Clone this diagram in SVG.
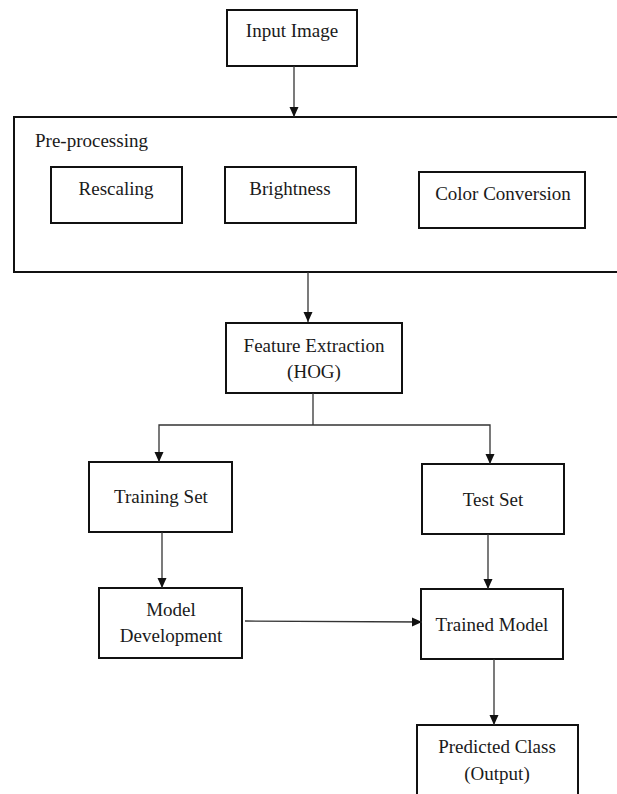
<svg xmlns="http://www.w3.org/2000/svg" width="617" height="794" viewBox="0 0 617 794">
<style>
.box{fill:#fff;stroke:#111;stroke-width:2}
.t{font-family:'Liberation Serif','DejaVu Serif',serif;font-size:19px;fill:#1a1a1a;text-anchor:middle}
.tl{font-family:'Liberation Serif','DejaVu Serif',serif;font-size:19px;fill:#1a1a1a}
.c{fill:none;stroke:#333;stroke-width:1.3}
</style>
<defs>
<marker id="ah" markerUnits="userSpaceOnUse" markerWidth="10" markerHeight="10" refX="10" refY="4.5" orient="auto" viewBox="0 0 10 9">
<path d="M0,0 L10,4.5 L0,9 z" fill="#111"/>
</marker>
</defs>
<rect width="617" height="794" fill="#fff"/>
<g id="input-image">
<rect class="box" x="227" y="10" width="130" height="56"/>
<text class="t" x="292" y="37" font-family="Liberation Serif">Input Image</text>
</g>
<g id="pre-processing">
<rect class="box" x="14" y="117" width="612" height="155"/>
<text class="tl" x="35" y="147" font-family="Liberation Serif">Pre-processing</text>
</g>
<g id="rescaling">
<rect class="box" x="51" y="167" width="131" height="56"/>
<text class="t" x="116" y="195" font-family="Liberation Serif">Rescaling</text>
</g>
<g id="brightness">
<rect class="box" x="225" y="167" width="131" height="56"/>
<text class="t" x="290" y="195" font-family="Liberation Serif">Brightness</text>
</g>
<g id="color-conversion">
<rect class="box" x="419" y="172" width="166" height="56"/>
<text class="t" x="503" y="200" font-family="Liberation Serif">Color Conversion</text>
</g>
<g id="feature-extraction">
<rect class="box" x="226" y="323" width="176" height="70"/>
<text class="t" x="314" y="352" font-family="Liberation Serif">Feature Extraction</text>
<text class="t" x="314" y="378" font-family="Liberation Serif">(HOG)</text>
</g>
<g id="training-set">
<rect class="box" x="89" y="462" width="143" height="70"/>
<text class="t" x="161" y="503" font-family="Liberation Serif">Training Set</text>
</g>
<g id="test-set">
<rect class="box" x="422" y="464" width="142" height="70"/>
<text class="t" x="493" y="506" font-family="Liberation Serif">Test Set</text>
</g>
<g id="model-development">
<rect class="box" x="99" y="588" width="143" height="70"/>
<text class="t" x="171" y="616" font-family="Liberation Serif">Model</text>
<text class="t" x="171" y="642" font-family="Liberation Serif">Development</text>
</g>
<g id="trained-model">
<rect class="box" x="421" y="589" width="142" height="70"/>
<text class="t" x="492" y="631" font-family="Liberation Serif">Trained Model</text>
</g>
<g id="predicted-class">
<rect class="box" x="417" y="725" width="161" height="80"/>
<text class="t" x="497" y="753" font-family="Liberation Serif">Predicted Class</text>
<text class="t" x="497" y="780" font-family="Liberation Serif">(Output)</text>
</g>
<g id="connectors">
<line class="c" x1="294" y1="66" x2="294" y2="117" marker-end="url(#ah)"/>
<line class="c" x1="308" y1="272" x2="308" y2="322" marker-end="url(#ah)"/>
<polyline class="c" points="313,393 313,425"/>
<polyline class="c" points="313,425 159,425 159,462" marker-end="url(#ah)"/>
<polyline class="c" points="313,425 490,425 490,464" marker-end="url(#ah)"/>
<line class="c" x1="162" y1="532" x2="162" y2="588" marker-end="url(#ah)"/>
<line class="c" x1="488" y1="534" x2="488" y2="589" marker-end="url(#ah)"/>
<line class="c" x1="245" y1="621" x2="422" y2="622" marker-end="url(#ah)"/>
<line class="c" x1="494" y1="659" x2="494" y2="725" marker-end="url(#ah)"/>
</g>
</svg>
